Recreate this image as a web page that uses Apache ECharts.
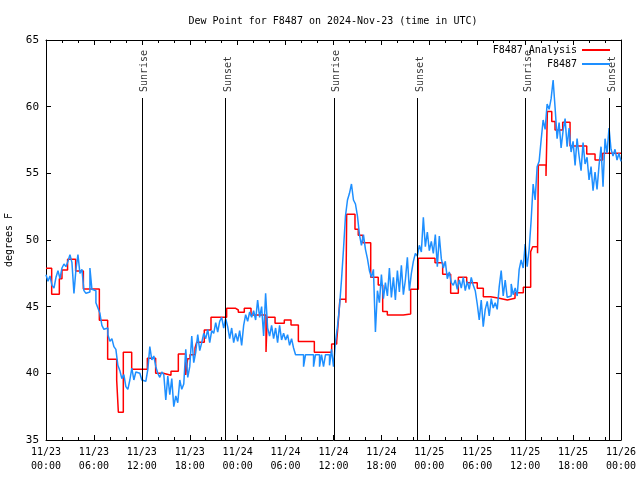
<!DOCTYPE html>
<html>
<head>
<meta charset="utf-8">
<script src="https://cdn.jsdelivr.net/npm/echarts@6/dist/echarts.min.js"></script>
<style>html,body{margin:0;padding:0;background:#fff}#chart{width:640px;height:480px}</style>
</head>
<body>
<div id="chart"></div>
<script>
const titleText = 'Dew Point for F8487 on 2024-Nov-23 (time in UTC)';
const yAxisName = 'degrees F';
const seriesNames = ['F8487 Analysis', 'F8487'];
const startMonth = 11, startDay = 23;

// Analysis (red) step series: hours since 11/23 00:00 UTC and values
const redHours = [0, 0.71, 1.67, 2.0, 2.7, 3.71, 4.68, 6.68, 7.72, 8.85, 9.06, 9.68, 10.73, 12.69, 13.73, 14.69, 15.65, 16.57, 17.49, 17.74, 18.03, 18.66, 18.87, 19.82, 20.66, 22.62, 23.75, 24.08, 24.83, 25.67, 27.55, 27.7, 28.68, 29.84, 30.68, 31.6, 33.6, 35.77, 36.4, 36.6, 36.8, 37.55, 37.65, 38.69, 39.1, 39.65, 40.66, 41.6, 42.16, 42.74, 44.74, 45.66, 46.62, 48.71, 49.67, 50.67, 51.63, 52.68, 54.0, 54.76, 55.68, 56.76, 57.77, 58.73, 59.77, 60.69, 60.94, 61.55, 61.65, 62.61, 62.78, 63.33, 63.74, 64.7, 65.62, 67.71, 68.75, 69.71, 72];
const redValues = [47.88, 45.93, 47.1, 47.75, 48.55, 47.68, 46.33, 43.98, 41.05, 39.5, 37.08, 41.58, 40.3, 41.13, 40.0, 39.85, 40.15, 41.45, 39.88, 41.1, 41.4, 41.9, 42.33, 43.25, 44.2, 44.88, 44.75, 44.58, 44.88, 44.375, 41.6, 44.2, 43.75, 44.0, 43.63, 42.38, 41.58, 42.2, 42.4, 43.88, 45.55, 45.3, 51.93, 50.8, 50.35, 49.8, 47.2, 46.63, 44.63, 44.375, 44.45, 46.3, 48.63, 48.3, 47.43, 46.0, 47.2, 46.8, 46.38, 45.75, 45.63, 45.5, 45.63, 46.05, 46.45, 49.13, 49.5, 49.0, 55.63, 54.8, 59.63, 58.88, 58.25, 58.83, 57.05, 56.45, 56.0, 56.5, 56.5];

// Observations (blue): one value every 0.25 h from 11/23 00:00
const blueStepHours = 0.25;
const blueValues = [
 47.4, 46.9, 47.3, 46.6,  46.4, 47.2, 47.7, 47.1,  47.9, 48.2, 48.0, 48.4,  48.9, 48.3, 46.0, 47.8,
 48.9, 47.5, 47.8, 46.2,  46.0, 46.1, 47.9, 46.3,  46.2, 45.3, 44.9, 44.5,  43.6, 43.3, 43.4, 42.9,
 42.4, 42.6, 42.0, 41.8,  40.6, 40.2, 39.6, 39.9,  39.0, 38.8, 39.5, 40.4,  39.5, 40.1, 40.0, 39.9,
 39.5, 39.4, 39.3, 40.3,  42.0, 41.0, 41.3, 40.5,  40.0, 39.7, 40.1, 39.9,  38.0, 39.8, 38.4, 39.6,
 37.5, 38.3, 37.8, 39.5,  38.8, 39.2, 41.8, 39.7,  40.5, 42.8, 40.8, 41.6,  42.9, 41.7, 42.3, 43.0,
 42.6, 43.3, 42.3, 43.2,  43.0, 43.8, 43.1, 43.9,  44.2, 43.4, 44.1, 43.5,  42.6, 43.4, 42.3, 43.0,
 42.4, 43.2, 42.1, 43.6,  44.4, 43.9, 44.6, 44.2,  44.7, 44.0, 45.5, 44.2,  45.0, 42.8, 46.0, 43.4,
 42.8, 43.6, 42.6, 43.4,  42.3, 43.6, 42.5, 43.0,  42.5, 42.9, 42.1, 42.6,  41.9, 41.4, 41.4, 41.4,
 41.4, 40.5, 41.4, 41.4,  41.4, 41.4, 40.5, 41.4,  41.4, 40.5, 41.4, 40.5,  41.4, 41.4, 40.6, 41.8,
 40.5, 42.4, 43.5, 45.0,  47.0, 49.3, 51.8, 53.0,  53.5, 54.2, 53.0, 52.7,  51.8, 50.4, 49.6, 50.4,
 49.3, 48.6, 47.7, 47.2,  47.8, 43.1, 46.2, 45.3,  47.4, 45.6, 46.8, 45.8,  47.9, 45.7, 47.2, 45.5,
 47.7, 46.1, 48.1, 45.9,  47.0, 48.7, 46.2, 47.5,  48.4, 49.0, 48.8, 49.6,  49.1, 51.7, 49.5, 50.6,
 49.2, 49.9, 49.0, 50.4,  48.0, 50.3, 48.6, 47.9,  48.4, 47.1, 47.6, 46.8,  46.6, 47.0, 46.3, 47.0,
 46.4, 47.2, 46.2, 46.9,  46.3, 47.2, 46.6, 46.2,  45.2, 44.0, 45.5, 43.5,  44.8, 45.4, 44.3, 45.6,
 44.9, 45.3, 44.8, 46.5,  47.7, 45.8, 47.0, 45.7,  45.8, 46.7, 45.9, 46.4,  45.8, 47.8, 48.5, 47.9,
 49.7, 48.0, 49.3, 51.5,  54.2, 53.0, 55.5, 55.9,  57.5, 59.0, 58.3, 60.2,  59.8, 60.6, 62.0, 59.9,
 57.6, 58.8, 56.9, 58.2,  59.1, 57.0, 58.4, 56.6,  57.4, 55.6, 57.6, 56.3,  55.2, 57.3, 55.7, 56.2,
 54.5, 55.5, 53.7, 55.1,  53.8, 55.6, 57.0, 54.0,  57.6, 56.5, 58.4, 56.8,  56.3, 56.8, 56.0, 56.5,
 55.9
];

// Sunrise / sunset markers
const eventHours = [12.0, 22.45, 36.05, 46.5, 60.0, 70.55];
const eventNames = ['Sunrise', 'Sunset', 'Sunrise', 'Sunset', 'Sunrise', 'Sunset'];
const eventTop = 60.65;

// Axis ranges
const xMin = 0, xMax = 72, xInterval = 6;
const yMin = 35, yMax = 65, yInterval = 5;

const FONT = 'DejaVu Sans Mono';
const txt = {fontFamily: FONT, fontSize: 10, color: '#000'};

const redData = redHours.map((h, i) => [h, redValues[i]]);
const blueData = blueValues.map((v, i) => [i * blueStepHours, v]);

function xLabel(v) {
  const day = startDay + Math.floor(v / 24);
  const hh = v % 24;
  return startMonth + '/' + day + '\n' + String(hh).padStart(2, '0') + ':00';
}

const axisLineBlack = {show: true, onZero: false, lineStyle: {color: '#000', width: 1}};
const tickIn = {show: true, inside: true, length: 5, lineStyle: {color: '#000'}};

const option = {
  animation: false,
  backgroundColor: '#fff',
  title: {text: titleText, left: 328, top: 11, textAlign: 'center',
    textStyle: Object.assign({fontWeight: 'normal'}, txt)},
  legend: [
    {data: [seriesNames[0]], right: 30, top: 45, padding: 0, orient: 'vertical', align: 'right', icon: 'rect',
     itemWidth: 28, itemHeight: 2, textStyle: txt, selectedMode: false},
    {data: [seriesNames[1]], right: 30, top: 59, padding: 0, orient: 'vertical', align: 'right', icon: 'rect',
     itemWidth: 28, itemHeight: 2, textStyle: txt, selectedMode: false}
  ],
  grid: {left: 46, right: 19, top: 40, bottom: 40, containLabel: false, outerBoundsMode: 'none'},
  xAxis: [
    {type: 'value', min: xMin, max: xMax, interval: xInterval, position: 'bottom',
     axisLine: axisLineBlack, axisTick: tickIn,
     minorTick: {show: true, splitNumber: 3, length: 3, lineStyle: {color: '#000'}},
     axisLabel: Object.assign({formatter: xLabel, lineHeight: 14, margin: 5}, txt),
     splitLine: {show: false}},
    {type: 'value', min: xMin, max: xMax, interval: xInterval, position: 'top',
     axisLine: axisLineBlack, axisTick: tickIn,
     minorTick: {show: true, splitNumber: 3, length: 3, lineStyle: {color: '#000'}},
     axisLabel: {show: false}, splitLine: {show: false}}
  ],
  yAxis: [
    {type: 'value', min: yMin, max: yMax, interval: yInterval, position: 'left',
     axisLine: axisLineBlack, axisTick: tickIn,
     axisLabel: Object.assign({margin: 7}, txt, {fontSize: 11}),
     name: yAxisName, nameLocation: 'middle', nameGap: 30, nameRotate: 90, nameTextStyle: txt,
     splitLine: {show: false}},
    {type: 'value', min: yMin, max: yMax, interval: yInterval, position: 'right',
     axisLine: axisLineBlack, axisTick: tickIn, axisLabel: {show: false}, splitLine: {show: false}}
  ],
  series: [
    {name: seriesNames[0], type: 'line', step: 'end', data: redData, showSymbol: false, symbol: 'none',
     itemStyle: {color: '#ff0000'}, lineStyle: {color: '#ff0000', width: 1.5}},
    {name: seriesNames[1], type: 'line', step: 'end', data: blueData, showSymbol: false, symbol: 'none',
     itemStyle: {color: '#1e8fff'}, lineStyle: {color: '#1e8fff', width: 1.5}},
    {name: 'events', type: 'scatter', symbolSize: 0, silent: true,
     data: eventHours.map((h, i) => ({value: [h, eventTop], name: eventNames[i]})),
     label: Object.assign({show: true, formatter: '{b}', position: 'top', distance: 6, rotate: 90,
       align: 'left', verticalAlign: 'middle', offset: [0, 3]}, txt),
     markLine: {silent: true, symbol: 'none', animation: false, label: {show: false},
       lineStyle: {color: '#000', width: 1, type: 'solid'},
       data: eventHours.map(h => [{coord: [h, yMin]}, {coord: [h, eventTop]}])}}
  ]
};

echarts.init(document.getElementById('chart'), null, {renderer: 'canvas'}).setOption(option);
</script>
</body>
</html>
